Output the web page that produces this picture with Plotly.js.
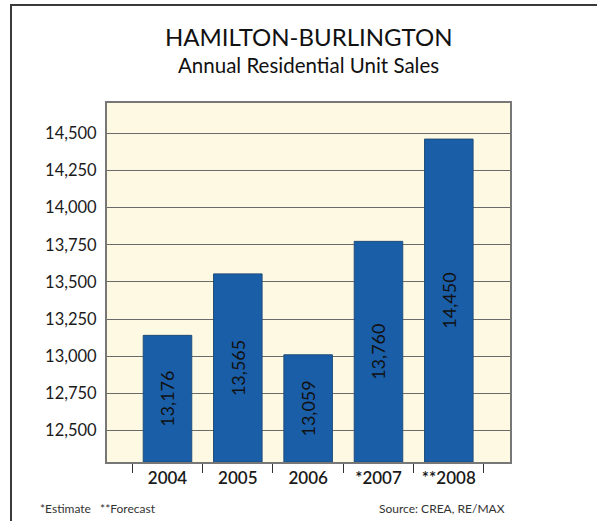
<!DOCTYPE html>
<html>
<head>
<meta charset="utf-8">
<script src="https://cdn.plot.ly/plotly-3.0.1.min.js"></script>
<style>
  html, body { margin: 0; padding: 0; background: #ffffff; }
  #wrap { position: relative; width: 597px; height: 521px; overflow: hidden; }
  #frame { position: absolute; left: 10px; top: 4px; width: 620px; height: 560px;
           border-left: 2px solid #3a3a3a; border-top: 2px solid #3a3a3a; pointer-events: none; z-index: 5; }
  #chart { position: absolute; left: 0; top: 0; width: 597px; height: 521px; }
</style>
</head>
<body>
<div id="wrap">
  <div id="chart"></div>
  <div id="frame"></div>
</div>
<script>
// ---- data ----
const categories = ["2004", "2005", "2006", "*2007", "**2008"];
const barValues = [13140, 13554, 13009, 13773, 14462];   // bar heights
const barLabels = ["13,176", "13,565", "13,059", "13,760", "14,450"]; // printed values
const yTickVals = [12500, 12750, 13000, 13250, 13500, 13750, 14000, 14250, 14500];
const yTickText = ["12,500", "12,750", "13,000", "13,250", "13,500", "13,750", "14,000", "14,250", "14,500"];
const titleText = "HAMILTON-BURLINGTON";
const subtitleText = "Annual Residential Unit Sales";
const noteLeft = "*Estimate&nbsp;&nbsp;&nbsp;**Forecast";
const noteRight = "Source: CREA, RE/MAX";

const Y_MIN = 12287, Y_MAX = 14705;
const FONT = "Lato, 'Open Sans', sans-serif";

const trace = {
  type: "bar",
  x: categories,
  y: barValues.map(v => v - Y_MIN),
  base: Y_MIN,
  width: 0.69,
  marker: { color: "#1a5ea8", line: { color: "#1f4c7a", width: 1 } },
  text: barLabels,
  textposition: "inside",
  insidetextanchor: "middle",
  textangle: -90,
  constraintext: "none",
  textfont: { family: FONT, size: 18, color: "#111111" },
  hoverinfo: "skip"
};

const layout = {
  width: 597, height: 521,
  margin: { l: 107, r: 87, t: 103, b: 59, pad: 0 },
  paper_bgcolor: "#ffffff",
  plot_bgcolor: "#fef9e2",
  showlegend: false,
  hovermode: false,
  font: { family: FONT, color: "#222222" },
  xaxis: {
    type: "category",
    range: [-0.86, 4.87],
    tickson: "boundaries",
    ticks: "outside",
    ticklen: 9,
    tickwidth: 1,
    tickcolor: "#333333",
    tickfont: { family: FONT, size: 17, color: "#1a1a1a", weight: 600 },
    showline: true, linecolor: "#777777", linewidth: 2, mirror: true,
    showgrid: false, zeroline: false,
    fixedrange: true
  },
  yaxis: {
    range: [Y_MIN, Y_MAX],
    tickvals: yTickVals,
    ticktext: yTickText,
    ticks: "",
    ticklabelstandoff: 5,
    tickfont: { family: FONT, size: 16.5, color: "#1a1a1a" },
    showgrid: true, gridcolor: "#6a6a6a", gridwidth: 1,
    showline: true, linecolor: "#777777", linewidth: 2, mirror: true,
    zeroline: false,
    fixedrange: true
  },
  annotations: [
    { text: titleText, xref: "paper", yref: "paper", x: 0.5, y: 1, yshift: 67,
      xanchor: "center", yanchor: "middle", showarrow: false,
      font: { family: FONT, size: 24, color: "#111111" } },
    { text: subtitleText, xref: "paper", yref: "paper", x: 0.5, y: 1, yshift: 38,
      xanchor: "center", yanchor: "middle", showarrow: false,
      font: { family: FONT, size: 20.5, color: "#111111" } },
    { text: noteLeft, xref: "paper", yref: "paper", x: 0, xshift: -69, y: 0, yshift: -46,
      xanchor: "left", yanchor: "middle", showarrow: false,
      font: { family: FONT, size: 12, color: "#333333" } },
    { text: noteRight, xref: "paper", yref: "paper", x: 1, xshift: -3, y: 0, yshift: -46,
      xanchor: "right", yanchor: "middle", showarrow: false,
      font: { family: FONT, size: 12, color: "#333333" } }
  ]
};

Plotly.newPlot("chart", [trace], layout, { staticPlot: true, displayModeBar: false });
</script>
</body>
</html>
